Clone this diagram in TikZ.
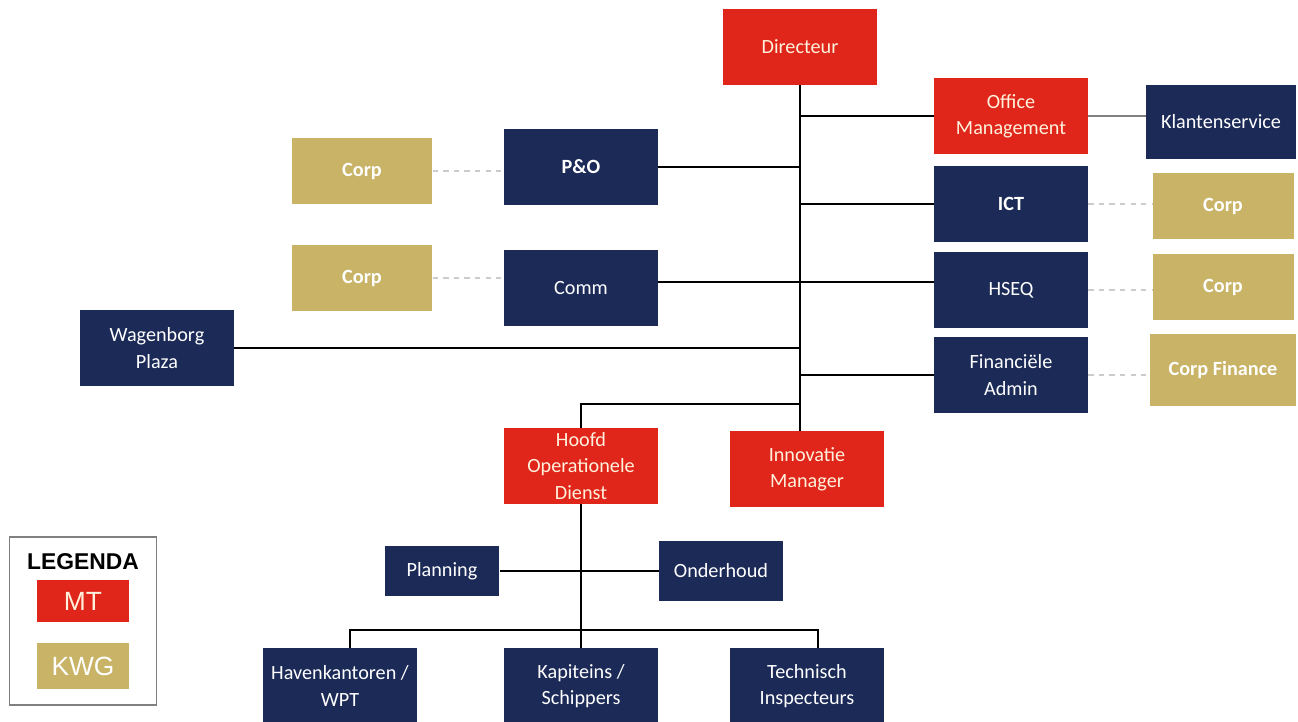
\documentclass[tikz,border=0pt]{standalone}
\usepackage{fontspec}
\setmainfont{Carlito}
\newfontfamily\legfont{Liberation Sans}
\definecolor{navyc}{HTML}{1B2A57}
\definecolor{mtred}{HTML}{E0261B}
\definecolor{kwggold}{HTML}{C8B366}
\definecolor{mttext}{HTML}{FFF1DC}
\tikzset{
  box/.style={minimum width=3.08cm,minimum height=1.52cm,inner sep=0pt,align=center,
    text=white,font=\fontsize{11.5}{15}\selectfont},
  navy/.style={box,fill=navyc},
  mt/.style={box,fill=mtred,text=mttext},
  kwg/.style={box,fill=kwggold,minimum width=2.82cm,minimum height=1.34cm,
    font=\bfseries\fontsize{11.5}{15}\selectfont},
  link/.style={black,line width=0.8pt},
  corp/.style={gray!40,line width=0.8pt,dashed}
}
\begin{document}
\begin{tikzpicture}[x=0.02cm,y=-0.02cm]
\useasboundingbox (0,0) rectangle (1298,722);
\foreach \n/\x/\y/\t in {dir/800/47/Directeur,om/1011/116/{Office\\Management},
    hod/581/466/{Hoofd\\Operationele\\Dienst},inn/807/469/{Innovatie\\Manager}}
  \node[mt] (\n) at (\x,\y) {\t};
\foreach \n/\x/\y/\t in {po/581/167/\textbf{P\&O},ict/1011/204/\textbf{ICT},comm/581/288/Comm,
    hseq/1011/290/HSEQ,wp/157/348/{Wagenborg\\Plaza},fa/1011/375/{Financiële\\Admin},
    hk/340/686/{Havenkantoren /\\WPT},kap/581/686/{Kapiteins /\\Schippers},
    ti/807/686/{Technisch\\Inspecteurs}}
  \node[navy] (\n) at (\x,\y) {\t};
\node[navy,minimum width=3cm,minimum height=1.48cm] (ks) at (1221,122) {Klantenservice};
\node[navy,minimum width=2.3cm,minimum height=1.02cm] (plan) at (442,571) {Planning};
\node[navy,minimum width=2.48cm,minimum height=1.22cm] (ond) at (721,571) {Onderhoud};
\foreach \n/\x/\y in {cl1/362/171,cl2/362/278,cr1/1223/206,cr2/1223/287}
  \node[kwg] (\n) at (\x,\y) {Corp};
\node[kwg,minimum width=2.92cm,minimum height=1.44cm] (cf) at (1223,370) {Corp Finance};
% legenda
\node[draw=gray,line width=0.6pt,minimum width=2.94cm,minimum height=3.36cm] (leg) at (83,621) {};
\node[font=\legfont\bfseries\fontsize{13}{15}\selectfont] (legt) at (83,562) {LEGENDA};
\node[fill=mtred,text=mttext,minimum width=1.84cm,minimum height=0.86cm,inner sep=0pt,
  font=\legfont\fontsize{15}{17}\selectfont] (lmt) at (83,601) {MT};
\node[fill=kwggold,text=white,minimum width=1.84cm,minimum height=0.94cm,inner sep=0pt,
  font=\legfont\fontsize{15}{17}\selectfont] (lkwg) at (83,666) {KWG};
% lijnen
\coordinate (bus) at (dir.south |- 0,404);
\draw[link] (dir.south) -- (bus) -| (hod.north);
\draw[link] (bus) -- (bus |- inn.north);
\foreach \n in {om,ict,fa}
  \draw[link] (\n.west) -- (\n.west -| dir.south);
\foreach \n in {po,wp}
  \draw[link] (\n.east) -- (\n.east -| dir.south);
\draw[link] ([yshift=0.12cm]comm.east) -- ([yshift=0.12cm]comm.east -| hseq.west);
\draw[gray,line width=0.8pt] (om.east) -- (om.east -| ks.west);
\draw[link] (hod.south) -- (kap.north);
\draw[link] (plan.east) -- (plan.east -| ond.west);
\coordinate (bus2) at (hod.south |- 0,630);
\draw[link] ([xshift=0.2cm]hk.north) |- (bus2) -| ([xshift=0.22cm]ti.north);
\draw[corp] (cl1.east) -- (cl1.east -| po.west);
\draw[corp] (cl2.east) -- (cl2.east -| comm.west);
\draw[corp] (ict.east) -- (ict.east -| cr1.west);
\draw[corp] (hseq.east) -- (hseq.east -| cr2.west);
\draw[corp] (fa.east) -- (fa.east -| cf.west);
\end{tikzpicture}
\end{document}
